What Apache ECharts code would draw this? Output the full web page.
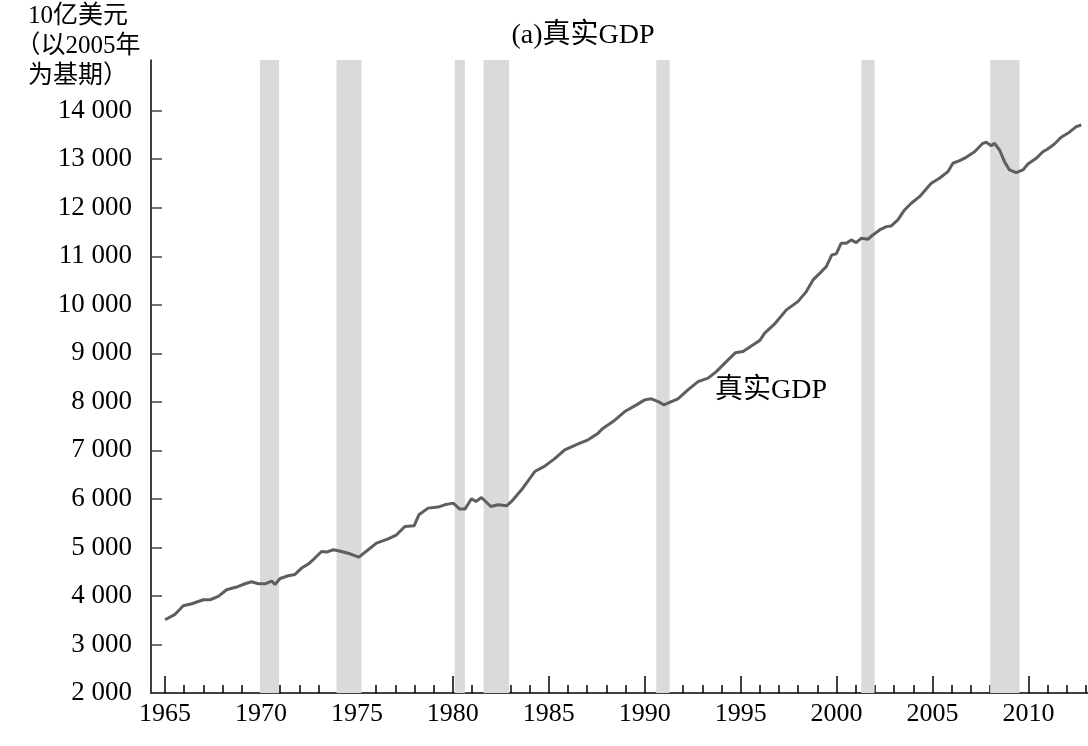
<!DOCTYPE html>
<html><head><meta charset="utf-8">
<script src="https://cdn.jsdelivr.net/npm/echarts@6/dist/echarts.min.js"></script>
<style>html,body{margin:0;padding:0;background:#fff}#c{width:1088px;height:746px}</style>
</head><body><div id="c"></div>
<script>
const years = [
1965.00,1965.50,1965.95,1966.40,1967.00,1967.35,1967.78,1968.21,1968.73,1969.17,1969.51,1969.86,
1970.21,1970.56,1970.73,1971.00,1971.42,1971.77,1972.12,1972.47,1972.81,1973.16,1973.42,1973.77,
1974.19,1974.64,1975.10,1975.59,1976.02,1976.63,1977.07,1977.50,1977.98,1978.23,1978.71,1979.23,
1979.58,1980.02,1980.36,1980.63,1980.97,1981.20,1981.49,1981.98,1982.37,1982.80,1983.06,1983.58,
1984.27,1984.79,1985.31,1985.83,1986.53,1987.05,1987.57,1987.83,1988.35,1988.96,1989.57,1990.00,
1990.35,1990.70,1991.00,1991.39,1991.73,1992.25,1992.78,1993.30,1993.73,1994.25,1994.72,1995.12,
1995.38,1995.99,1996.25,1996.77,1997.38,1997.98,1998.42,1998.77,1999.20,1999.46,1999.75,1999.98,
2000.24,2000.50,2000.76,2001.02,2001.29,2001.63,2001.89,2002.24,2002.59,2002.85,2003.19,2003.54,
2003.89,2004.32,2004.93,2005.36,2005.80,2006.06,2006.41,2006.75,2007.19,2007.62,2007.80,2008.06,
2008.23,2008.49,2008.75,2009.01,2009.36,2009.71,2009.97,2010.40,2010.75,2011.00,2011.35,2011.70,
2012.05,2012.49,2012.75];
const gdp = [
3510,3614,3798,3839,3922,3922,3990,4128,4183,4251,4292,4251,
4251,4307,4237,4360,4416,4443,4575,4657,4781,4917,4904,4952,
4917,4869,4800,4952,5090,5178,5260,5432,5446,5672,5810,5831,
5878,5913,5790,5790,6002,5947,6029,5843,5878,5858,5947,6187,
6564,6675,6830,7011,7135,7217,7355,7458,7594,7800,7938,8041,
8062,8006,7938,8006,8062,8247,8418,8488,8624,8830,9010,9036,
9106,9263,9415,9606,9895,10066,10272,10513,10680,10787,11028,11049,
11269,11269,11337,11281,11372,11351,11440,11543,11611,11625,11749,11955,
12093,12229,12505,12608,12744,12917,12971,13040,13155,13328,13349,13279,
13328,13190,12950,12779,12723,12779,12902,13019,13155,13211,13314,13452,
13534,13671,13705];
const recessionStart = [1969.95, 1973.94, 1980.10, 1981.60, 1990.60, 2001.29, 2008.00];
const recessionEnd   = [1970.94, 1975.24, 1980.63, 1982.93, 1991.30, 2001.98, 2009.53];
const yTicks = [2000,3000,4000,5000,6000,7000,8000,9000,10000,11000,12000,13000,14000];
const xMajor = [1965,1970,1975,1980,1985,1990,1995,2000,2005,2010];
const xMinor = [];
for (let y = 1965; y <= 2013; y++) xMinor.push(y);
const titleText = '(a)真实GDP';
const seriesLabel = '真实GDP';
const yAxisTitle = '10亿美元\n（以2005年\n为基期）';

const FONT = '"Liberation Serif", "Noto Sans CJK SC", serif';
const chart = echarts.init(document.getElementById('c'));
const xMin = 1964.27, xMax = 2013.1;
const fmt = v => String(v).replace(/\B(?=(\d{3})+$)/g, ' ');

chart.setOption({
  animation: false,
  backgroundColor: '#fff',
  title: {
    text: titleText, left: 578, top: 17, textAlign: 'center',
    textStyle: {fontFamily: FONT, fontSize: 28, fontWeight: 'normal', color: '#000'}
  },
  graphic: [
    {type: 'text', x: 78, y: 1,
     style: {text: yAxisTitle, fontFamily: FONT, fontSize: 25, lineHeight: 30,
             fill: '#000', align: 'center', verticalAlign: 'top'}},
    {type: 'text', x: 715, y: 377,
     style: {text: seriesLabel, fontFamily: FONT, fontSize: 28, fill: '#000'}}
  ],
  grid: {left: 151, right: 0, top: 60, bottom: 53},
  xAxis: [
    {type: 'value', min: xMin, max: xMax, position: 'bottom',
     axisLine: {show: true, lineStyle: {color: '#000', width: 1.5}},
     axisTick: {show: true, inside: true, length: 17, customValues: xMajor,
                lineStyle: {color: '#000', width: 1.5}},
     axisLabel: {show: true, customValues: xMajor, margin: 8,
                 fontFamily: FONT, fontSize: 26, color: '#000', formatter: v => String(v)},
     splitLine: {show: false}},
    {type: 'value', min: xMin, max: xMax, position: 'bottom', offset: 0,
     axisLine: {show: false},
     axisTick: {show: true, inside: true, length: 8, customValues: xMinor,
                lineStyle: {color: '#000', width: 1.5}},
     axisLabel: {show: false},
     splitLine: {show: false}}
  ],
  yAxis: {
    type: 'value', min: 2000, max: 15045,
    axisLine: {show: true, lineStyle: {color: '#000', width: 1.5}},
    axisTick: {show: true, inside: true, length: 11, customValues: yTicks,
               lineStyle: {color: '#444', width: 1.5}},
    axisLabel: {show: true, customValues: yTicks, margin: 19,
                fontFamily: FONT, fontSize: 27, color: '#000', formatter: fmt},
    splitLine: {show: false}
  },
  series: [{
    type: 'line', xAxisIndex: 0, yAxisIndex: 0,
    data: years.map((t, i) => [t, gdp[i]]),
    showSymbol: false, symbol: 'none',
    lineStyle: {color: '#5e5e5e', width: 3},
    z: 3,
    markArea: {
      silent: true,
      itemStyle: {color: '#dadada'},
      data: recessionStart.map((s, i) => [{xAxis: s}, {xAxis: recessionEnd[i]}])
    }
  }]
});
</script>
</body></html>
